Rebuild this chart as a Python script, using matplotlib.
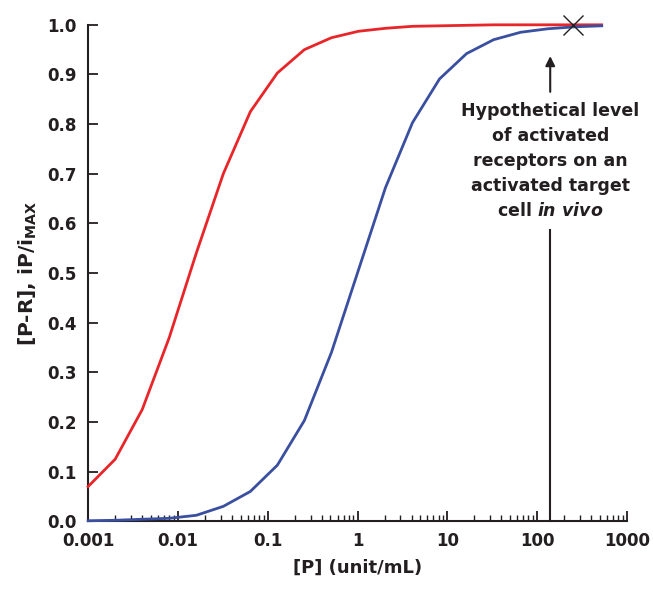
import matplotlib
matplotlib.use("Agg")
import matplotlib.pyplot as plt
from matplotlib.ticker import LogLocator, NullFormatter, FixedLocator, FixedFormatter

plt.rcParams['font.family'] = ['DejaVu Sans']
plt.rcParams['font.weight'] = 'bold'
plt.rcParams['mathtext.fontset'] = 'custom'
plt.rcParams['mathtext.rm'] = 'DejaVu Sans:bold'
plt.rcParams['mathtext.it'] = 'DejaVu Sans:bold:italic'

# concentrations double at each step
conc = [0.001, 0.002, 0.004, 0.008, 0.016, 0.032, 0.064, 0.128, 0.256, 0.512,
        1.024, 2.048, 4.096, 8.192, 16.38, 32.77, 65.54, 131.1, 262.1, 524.3]
red_vals = [0.070, 0.125, 0.225, 0.370, 0.540, 0.700, 0.825, 0.903, 0.950, 0.974,
            0.987, 0.993, 0.997, 0.998, 0.999, 1.0, 1.0, 1.0, 1.0, 1.0]
blue_vals = [0.001, 0.002, 0.004, 0.006, 0.012, 0.030, 0.060, 0.113, 0.203, 0.340,
             0.506, 0.672, 0.803, 0.891, 0.942, 0.970, 0.985, 0.992, 0.996, 0.998]

x_ticks = [0.001, 0.01, 0.1, 1, 10, 100, 1000]
x_labels = ['0.001', '0.01', '0.1', '1', '10', '100', '1000']
y_ticks = [0.0, 0.1, 0.2, 0.3, 0.4, 0.5, 0.6, 0.7, 0.8, 0.9, 1.0]
y_labels = ['%.1f' % v for v in y_ticks]

marker_x, marker_y = 250, 1.0
arrow_x = 140

fig = plt.figure(figsize=(6.53, 5.91), dpi=100)
ax = fig.add_axes([0.135, 0.118, 0.825, 0.840])

ax.plot(conc, red_vals, color='#e8262a', lw=2.0, zorder=3, clip_on=False)
ax.plot(conc, blue_vals, color='#3a4fa0', lw=2.0, zorder=3, clip_on=False)
ax.plot([marker_x], [marker_y], marker='x', color='#231f20', ms=14, mew=1.0,
        zorder=4, clip_on=False)

ax.set_xscale('log')
ax.set_xlim(0.001, 1000)
ax.set_ylim(0, 1.0)

ax.xaxis.set_major_locator(FixedLocator(x_ticks))
ax.xaxis.set_major_formatter(FixedFormatter(x_labels))
ax.xaxis.set_minor_locator(LogLocator(base=10, subs=range(2, 10), numticks=20))
ax.xaxis.set_minor_formatter(NullFormatter())
ax.yaxis.set_major_locator(FixedLocator(y_ticks))
ax.yaxis.set_major_formatter(FixedFormatter(y_labels))

for side in ['top', 'right']:
    ax.spines[side].set_visible(False)
for side in ['left', 'bottom']:
    ax.spines[side].set_linewidth(1.5)
    ax.spines[side].set_color('#231f20')

ax.tick_params(axis='both', which='major', direction='in', length=7, width=1.3,
               color='#231f20', labelsize=12, labelcolor='#231f20', pad=8)
ax.tick_params(axis='x', which='minor', direction='in', length=4, width=1.0, color='#231f20')
for lab in ax.get_xticklabels() + ax.get_yticklabels():
    lab.set_fontweight('bold')

ax.set_xlabel('[P] (unit/mL)', fontsize=13, fontweight='bold', color='#231f20', labelpad=6)
ax.set_ylabel(r'[P-R], iP/i$_{\mathrm{MAX}}$', fontsize=14.5, fontweight='bold',
              color='#231f20', labelpad=6)

# annotation: vertical line from the axis up to the arrow head
ax.plot([arrow_x, arrow_x], [0, 0.587], color='#231f20', lw=1.5, zorder=2, clip_on=False)
ax.annotate('', xy=(arrow_x, 0.937), xytext=(arrow_x, 0.865),
            arrowprops=dict(arrowstyle='-|>', color='#231f20', lw=1.5,
                            mutation_scale=14, shrinkA=0, shrinkB=0))
ax.text(arrow_x, 0.726,
        'Hypothetical level\nof activated\nreceptors on an\nactivated target\ncell $in\\ vivo$',
        ha='center', va='center', fontsize=12.5, fontweight='bold', color='#231f20',
        linespacing=1.5)

fig.savefig('out.png', dpi=100)
